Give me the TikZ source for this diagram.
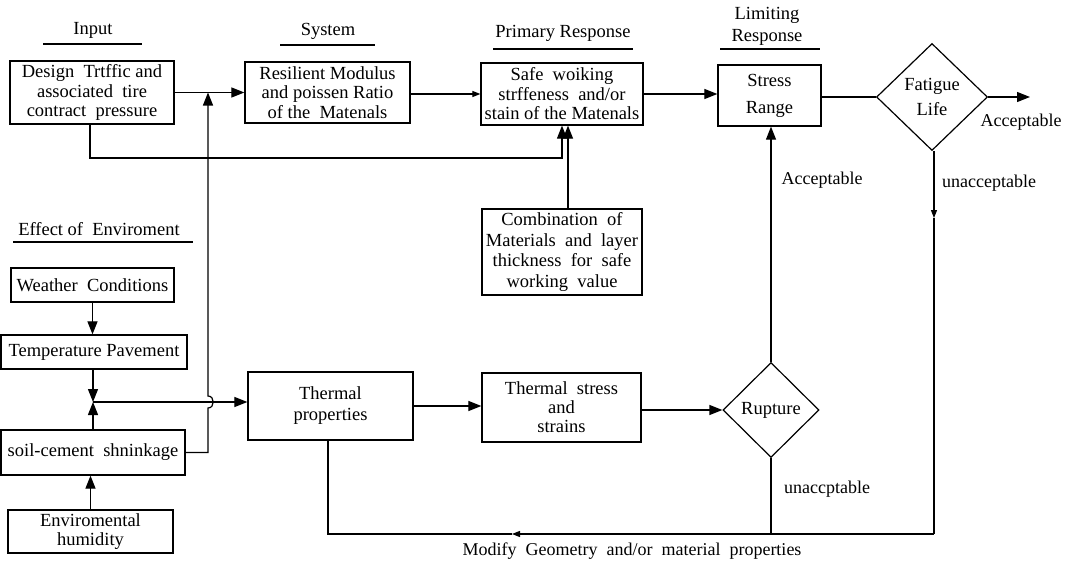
\documentclass[tikz,border=0pt]{standalone}
\usepackage{fontspec}
\setmainfont{Liberation Serif}
\usetikzlibrary{arrows.meta,shapes.geometric}
\newcommand\myfs[2]{\fontsize{#1}{#2}\selectfont}
\begin{document}
\begin{tikzpicture}[x=1pt,y=-1pt,
 box/.style={draw,line width=1.3pt,inner sep=0pt,align=center,font=\myfs{18.5}{19.5}},
 dia/.style={draw,diamond,line width=1.2pt,inner sep=0pt,align=center,font=\myfs{18.5}{25}},
 ttl/.style={font=\myfs{18.5}{22},align=center,inner sep=0pt},
 lbl/.style={font=\myfs{18}{18},inner sep=0pt},
 ln/.style={line width=1.2pt},
 arr/.style={ln,-{Triangle[length=13pt,width=10pt]}},
 sarr/.style={ln,-{Triangle[length=8pt,width=6pt]}},
]
\useasboundingbox (0,0) rectangle (1071,565);

% titles
\node[ttl] (tin) at (93,30) {Input};
\draw[ln] (43,44) -- (142,44);
\node[ttl] (tsys) at (328,31) {System};
\draw[ln] (280,45) -- (375,45);
\node[ttl] (tpr) at (563,33) {Primary Response};
\draw[ln] (493,49) -- (633,49);
\node[ttl] (tlim) at (767,26) {Limiting\\Response};
\draw[ln] (720,49) -- (820,49);
\node[ttl] (tenv) at (99,229) {Effect of\ \ Enviroment};
\draw[ln] (13,242) -- (193,242);

% boxes
\node[box,minimum width=164,minimum height=63] (inp) at (92,92.5)
  {Design\ \ Trtffic and\\associated\ \ tire\\contract\ \ pressure};
\node[box,minimum width=165,minimum height=61] (sys) at (327.5,92.5)
  {Resilient Modulus\\and poissen Ratio\\of the\ \ Matenals};
\node[box,minimum width=162,minimum height=62] (prim) at (562,94)
  {Safe\ \ woiking\\strffeness\ \ and/or\\stain of the Matenals};
\node[box,minimum width=103,minimum height=61,font=\myfs{18.5}{27}] (stress) at (769.5,95.5)
  {Stress\\Range};
\node[dia,minimum width=111,minimum height=107] (fat) at (932,97) {Fatigue\\Life};
\node[box,minimum width=160,minimum height=86,font=\myfs{18.5}{20.5}] (comb) at (562,252)
  {Combination\ \ of\\Materials\ \ and\ \ layer\\thickness\ \ for\ \ safe\\working\ \ value};
\node[box,minimum width=163,minimum height=34] (wea) at (92.5,285) {Weather\ \ Conditions};
\node[box,minimum width=186,minimum height=34] (temp) at (94,352) {Temperature Pavement};
\node[box,minimum width=184,minimum height=45] (soil) at (93,452.5) {soil-cement\ \ shninkage};
\node[box,minimum width=165,minimum height=43] (hum) at (90.5,531.5) {Enviromental\\humidity};
\node[box,minimum width=165,minimum height=68,font=\myfs{18.5}{21}] (thp) at (330.5,406) {Thermal\\properties};
\node[box,minimum width=159,minimum height=69,font=\myfs{18.5}{19}] (ths) at (561.5,407.5) {Thermal\ \ stress\\and\\strains};
\node[dia,minimum width=96,minimum height=95] (rup) at (771,410) {Rupture};

% labels
\node[lbl] (acc1) at (1021,122) {Acceptable};
\node[lbl] (una1) at (989,183) {unacceptable};
\node[lbl] (acc2) at (822,180) {Acceptable};
\node[lbl] (una2) at (827,489) {unaccptable};
\node[lbl] (mod) at (632,551) {Modify\ \ Geometry\ \ and/or\ \ material\ \ properties};

% coordinates
\coordinate (out) at (1030,97);
\coordinate (fa) at (934,218);
\coordinate (br) at (934,534);
\coordinate (ma) at (512,534);
\coordinate (bl) at (328,534);
\coordinate (j) at (93,402);
\coordinate (v) at (208,0);
\coordinate (l1) at (90,158);
\coordinate (l2) at (562,158);
\coordinate (l3) at (568,0);

% top row connectors
\draw[arr] (inp.east) -- (inp.east -| sys.west);
\draw[sarr] (sys.east |- prim.west) -- (prim.west);
\draw[arr] (prim.east) -- (prim.east -| stress.west);
\draw[ln] (stress.east |- fat.west) -- (fat.west);
\draw[arr] (fat.east) -- (out);
\draw[sarr] (fat.south -| fa) -- (fa);
\draw[ln] (fa) -- (br);
\draw[sarr] (br) -- (ma);
\draw[ln] (ma) -- (bl) -- (bl |- thp.south);
\draw[ln] (rup.south) -- (rup.south |- br);
\draw[arr] (rup.north) -- (rup.north |- stress.south);

% primary response feeds
\draw[arr] (inp.south -| l1) -- (l1) -- (l2) -- (l2 |- prim.south);
\draw[arr] (comb.north -| l3) -- (l3 |- prim.south);

% environment column
\draw[arr] (wea.south) -- (wea.south |- temp.north);
\draw[arr] (temp.south -| j) -- (j);
\draw[arr] (soil.north -| j) -- (j);
\draw[arr] (j) -- (j -| thp.west);
\draw[arr] (hum.north) -- (hum.north |- soil.south);
\draw[arr] (soil.east) -- (soil.east -| v) -- ([yshift=-6]v |- j)
  .. controls ([xshift=7,yshift=-6]v |- j) and ([xshift=7,yshift=6]v |- j) .. ([yshift=6]v |- j)
  -- (v |- inp.east);

% bottom row
\draw[arr] (thp.east) -- (thp.east -| ths.west);
\draw[arr] (ths.east |- rup.west) -- (rup.west);
\end{tikzpicture}
\end{document}
